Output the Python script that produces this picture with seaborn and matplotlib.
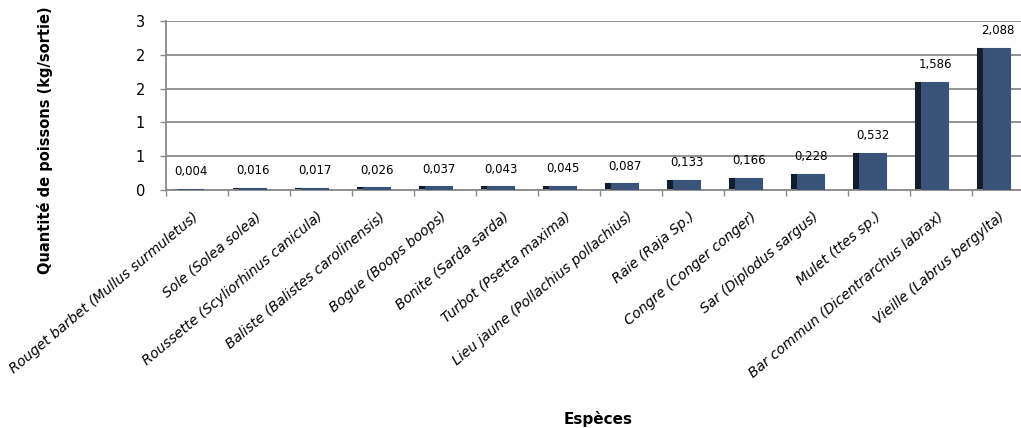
import math
import numpy as np
import seaborn as sns
import matplotlib.pyplot as plt
from matplotlib.ticker import FuncFormatter, FixedLocator

# Quantité moyenne débarquée par sortie, par espèce
especes = ['Rouget barbet (Mullus surmuletus)', 'Sole (Solea solea)',
           'Roussette (Scyliorhinus canicula)', 'Baliste (Balistes carolinensis)',
           'Bogue (Boops boops)', 'Bonite (Sarda sarda)', 'Turbot (Psetta maxima)',
           'Lieu jaune (Pollachius pollachius)', 'Raie (Raja Sp.)',
           'Congre (Conger conger)', 'Sar (Diplodus sargus)', 'Mulet (ttes sp.)',
           'Bar commun (Dicentrarchus labrax)', 'Vieille (Labrus bergylta)']
quantite = [0.004, 0.016, 0.017, 0.026, 0.037, 0.043, 0.045,
            0.087, 0.133, 0.166, 0.228, 0.532, 1.586, 2.088]
etiquettes = ['0,004', '0,016', '0,017', '0,026', '0,037', '0,043', '0,045',
              '0,087', '0,133', '0,166', '0,228', '0,532', '1,586', '2,088']

sns.set_theme(style='white')
plt.rcParams['font.family'] = ['DejaVu Sans']
plt.rcParams['text.color'] = 'black'
plt.rcParams['xtick.color'] = 'black'
plt.rcParams['ytick.color'] = 'black'

fig = plt.figure(figsize=(10.21, 4.28), dpi=100)
ax = fig.add_axes([166 / 1021, 1 - 190 / 428, (1021 - 166) / 1021, 169 / 428])

front = '#3a5479'
side = '#121d2d'
grey = '#8a8a8a'

sns.barplot(x=especes, y=quantite, color=front, width=0.42, saturation=1, ax=ax)
# petit décalage pour laisser la place à la face latérale
for p in ax.patches:
    p.set_x(p.get_x() - 0.09)
    p.set_edgecolor(front)
    p.set_linewidth(1.5)
    p.set_joinstyle('miter')
    p.set_zorder(3)
x = np.arange(len(especes))
ax.bar(x - 0.09 - 0.21 - 0.05, quantite, width=0.1, color=side,
       edgecolor=side, linewidth=1.5, joinstyle='miter', zorder=2)

for i, (v, t) in enumerate(zip(quantite, etiquettes)):
    ax.annotate(t, (i - 0.09, v), xytext=(0, 13), textcoords='offset points',
                ha='center', va='center', fontsize=8.5, color='black')

ax.set_xlim(-0.5, 13.29)
ax.set_ylim(0, 2.5)
ax.set_yticks(np.arange(0, 2.51, 0.5))
ax.yaxis.set_major_formatter(FuncFormatter(lambda v, pos: str(math.floor(v + 0.5))))
ax.yaxis.grid(True, color=grey, linewidth=1.3)
ax.set_axisbelow(True)

ax.xaxis.set_minor_locator(FixedLocator(np.arange(-0.5, 13.5, 1)))
ax.tick_params(axis='x', which='major', length=0, pad=18)
ax.tick_params(axis='x', which='minor', length=4, color=grey, width=1, bottom=True)
ax.tick_params(axis='y', length=4, color=grey, width=1, left=True, pad=11, labelsize=10.5)
plt.setp(ax.get_xticklabels(), rotation=40, ha='right', rotation_mode='anchor',
         va='center', fontsize=10, style='italic')

for s in ['top', 'right']:
    ax.spines[s].set_visible(False)
for s in ['left', 'bottom']:
    ax.spines[s].set_color(grey)
    ax.spines[s].set_linewidth(1.3)

ax.set_xlabel('')
ax.set_ylabel('')
fig.text(45 / 1021, 1 - 140 / 428, 'Quantité de poissons (kg/sortie)', rotation=90,
         ha='center', va='center', fontsize=10.5, fontweight='bold')
fig.text(598 / 1021, 1 - 419 / 428, 'Espèces', ha='center', va='center',
         fontsize=11, fontweight='bold')

fig.savefig('out.png', dpi=100)
